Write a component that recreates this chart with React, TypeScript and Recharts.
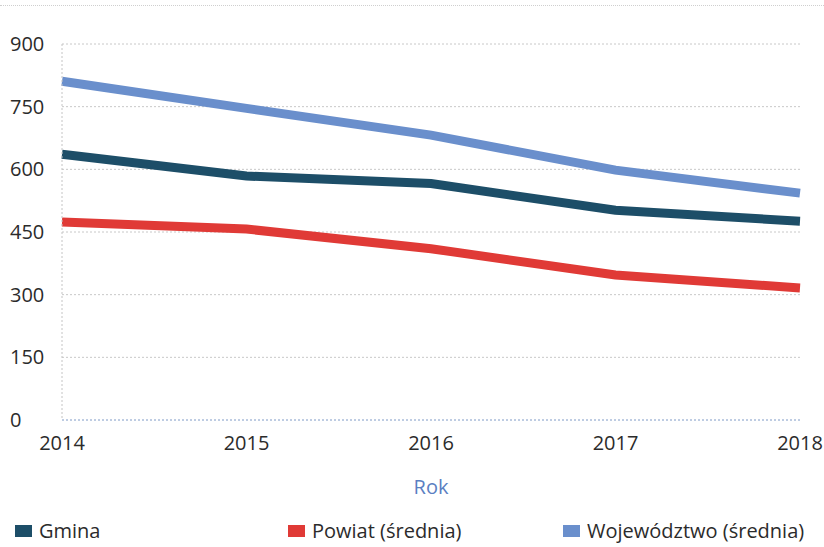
import React from 'react';
import { LineChart, Line, XAxis, YAxis, CartesianGrid, Legend, ReferenceLine, Label } from 'recharts';

const years = ['2014', '2015', '2016', '2017', '2018'];
const gmina = [636, 584, 566, 502, 476];
const powiat = [474, 457, 410, 347, 316];
const wojewodztwo = [811, 746, 682, 598, 543];
const yTicks = [0, 150, 300, 450, 600, 750, 900];

const series = [
    { key: 'gmina', name: 'Gmina', color: '#1d4e68' },
    { key: 'powiat', name: 'Powiat (średnia)', color: '#e03a36' },
    { key: 'woj', name: 'Województwo (średnia)', color: '#6a8fcc' },
];

const data = years.map((year, i) => ({
    year,
    gmina: gmina[i],
    powiat: powiat[i],
    woj: wojewodztwo[i],
}));

const FONT = '"Open Sans", sans-serif';
const TEXT = '#2b2b2b';

const YTick = (props: any) => {
    const { y, payload } = props;
    return (
        <text x={10} y={y} dy={7} textAnchor="start" fontSize={20} fill={TEXT} fontFamily={FONT}>
            {payload.value}
        </text>
    );
};

const XTick = (props: any) => {
    const { x, y, payload } = props;
    return (
        <text x={x} y={y} dy={22} textAnchor="middle" fontSize={20} fill={TEXT} fontFamily={FONT}>
            {payload.value}
        </text>
    );
};

const legendX = [15, 288, 563];

const LegendContent = () => (
    <div style={{ position: 'relative', width: 824, height: 30, fontFamily: FONT, fontSize: 20, color: TEXT }}>
        {series.map((s, i) => (
            <div key={s.key} style={{ position: 'absolute', left: legendX[i], top: 0, display: 'flex', alignItems: 'center', whiteSpace: 'nowrap' }}>
                <span style={{ display: 'inline-block', width: 17, height: 12, background: s.color, marginRight: 7 }} />
                <span>{s.name}</span>
            </div>
        ))}
    </div>
);

export default function App() {
    return (
        <div style={{ position: 'absolute', left: 0, top: 0, width: 824, height: 547, background: '#fff' }}>
            <div style={{ position: 'absolute', left: 0, top: 5, width: 824, borderTop: '1px dotted #cfcfcf' }} />
            <LineChart width={824} height={547} data={data} margin={{ top: 44, right: 24, left: 0, bottom: 13 }}>
                <CartesianGrid vertical={false} stroke="#c8c8c8" strokeDasharray="2 2" />
                <YAxis
                    width={62}
                    domain={[0, 900]}
                    ticks={yTicks}
                    tick={<YTick />}
                    tickLine={false}
                    axisLine={{ stroke: '#c4c4c4', strokeDasharray: '2 2' }}
                />
                <XAxis
                    dataKey="year"
                    height={84}
                    tick={<XTick />}
                    tickLine={false}
                    axisLine={false}
                    padding={{ left: 0, right: 0 }}
                    interval={0}
                >
                    <Label value="Rok" position="insideBottom" offset={10} fill="#5b7fc2" fontSize={20} fontFamily={FONT} />
                </XAxis>
                <ReferenceLine y={0} stroke="#9ab6e2" strokeDasharray="2 2" />
                <Legend content={<LegendContent />} wrapperStyle={{ left: 0, top: 517, width: 824 }} />
                {series.map((s) => (
                    <Line
                        key={s.key}
                        type="linear"
                        dataKey={s.key}
                        name={s.name}
                        stroke={s.color}
                        strokeWidth={9}
                        dot={false}
                        activeDot={false}
                        isAnimationActive={false}
                    />
                ))}
            </LineChart>
        </div>
    );
}
